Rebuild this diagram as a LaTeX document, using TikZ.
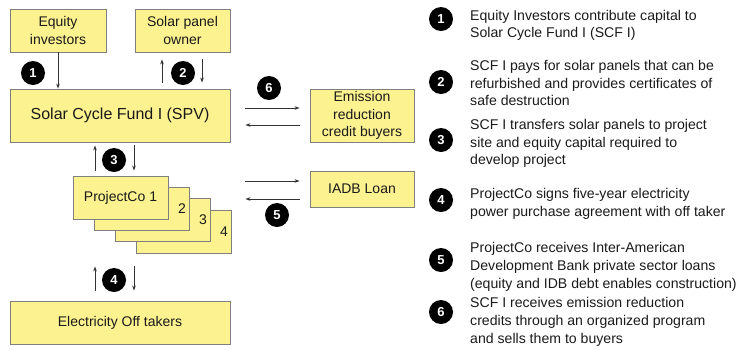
\documentclass[tikz,border=0pt]{standalone}
\usepackage{fontspec}
\setmainfont{Liberation Sans}
\usetikzlibrary{arrows.meta,positioning}
\definecolor{boxfill}{HTML}{FDF290}
\definecolor{boxline}{HTML}{7F7F7F}
\definecolor{ink}{HTML}{1A1A1A}
\definecolor{wire}{HTML}{333333}

\begin{document}
\begin{tikzpicture}[x=1pt, y=-1pt, >={Stealth[length=5pt,width=3.6pt]},
  box/.style={draw=boxline, fill=boxfill, line width=0.9pt, text=ink, align=center,
    inner sep=0pt, font=\fontsize{14}{17.5}\selectfont, minimum height=43pt},
  stack/.style={box, minimum width=95pt,
    label={[anchor=east, text=ink, font=\fontsize{14}{17.5}\selectfont]east:#1}},
  num/.style={circle, fill=black, text=white, inner sep=0pt, minimum size=24pt,
    font=\fontsize{13}{13}\bfseries\selectfont},
  arr/.style={->, wire, line width=0.8pt},
  note/.style={anchor=west, align=left, inner sep=0pt, text=ink,
    font=\fontsize{14.1}{17.7}\selectfont}]
  \useasboundingbox (0,0) rectangle (742,349);

  % parties
  \node[box, minimum width=96pt] (equity) at (58,30.5) {Equity\\investors};
  \node[box, minimum width=95pt] (owner) at (182.5,30.5) {Solar panel\\owner};
  \node[box, minimum width=220pt, minimum height=53pt, font=\fontsize{16}{19}\selectfont] (scf) at (120,115.5) {Solar Cycle Fund I (SPV)};
  \node[box, minimum width=104pt, minimum height=53pt] (emission) at (362,115.5) {Emission\\reduction\\credit buyers};
  \node[box, minimum width=104pt, minimum height=36pt] (iadb) at (362,189) {IADB Loan};
  \node[stack={4}] (proj4) at (183.5,231.5) {};
  \node[stack={3}] (proj3) at (162.5,220) {};
  \node[stack={2}] (proj2) at (141.5,208.5) {};
  \node[box, minimum width=95pt] (proj1) at (120.5,197.5) {ProjectCo 1};
  \node[box, minimum width=220pt] (offtakers) at (120,322.5) {Electricity Off takers};

  % flows
  \draw[arr] (equity.south) -- (equity.south |- scf.north);
  \draw[arr] ([xshift=-20.5pt, yshift=6pt]owner.south |- scf.north) -- ([xshift=-20.5pt, yshift=-7pt]owner.south);
  \draw[arr] ([xshift=19.5pt, yshift=-7pt]owner.south) -- ([xshift=19.5pt, yshift=6pt]owner.south |- scf.north);
  \draw[arr] ([xshift=-25pt, yshift=5pt]scf.south |- proj1.north) -- ([xshift=-25pt, yshift=-3pt]scf.south);
  \draw[arr] ([xshift=14pt, yshift=-3pt]scf.south) -- ([xshift=14pt, yshift=5pt]scf.south |- proj1.north);
  \draw[arr] ([xshift=-25pt, yshift=10pt]offtakers.north) -- ([xshift=-25pt, yshift=-13pt]offtakers.north |- proj4.south);
  \draw[arr] ([xshift=14pt, yshift=-13pt]offtakers.north |- proj4.south) -- ([xshift=14pt, yshift=10pt]offtakers.north);
  \draw[arr] ([xshift=15pt, yshift=7.5pt]scf.east) -- ([xshift=-10pt, yshift=7.5pt]emission.west);
  \draw[arr] ([xshift=-10pt, yshift=-9.5pt]emission.west) -- ([xshift=15pt, yshift=-9.5pt]scf.east);
  \draw[arr] ([xshift=15pt, yshift=8pt]scf.east |- iadb.west) -- ([xshift=-10pt, yshift=8pt]iadb.west);
  \draw[arr] ([xshift=-10pt, yshift=-10pt]iadb.west) -- ([xshift=15pt, yshift=-10pt]scf.east |- iadb.west);

  % step markers
  \node[num] (c1) at (33,73) {1};
  \node[num] (c2) at (183,73) {2};
  \node[num] (c3) at (114,160) {3};
  \node[num] (c4) at (114,280) {4};
  \node[num] (c5) at (277,215) {5};
  \node[num] (c6) at (269,88) {6};

  % legend
  \node[num] (k1) at (441,19) {1};
  \node[num] (k2) at (441,82) {2};
  \node[num] (k3) at (441,140) {3};
  \node[num] (k4) at (441,200) {4};
  \node[num] (k5) at (441,260) {5};
  \node[num] (k6) at (441,312) {6};
  \node[note] (t1) at (470,25.5) {Equity Investors contribute capital to\\Solar Cycle Fund I (SCF I)};
  \node[note] (t2) at (470,83) {SCF I pays for solar panels that can be\\refurbished and provides certificates of\\safe destruction};
  \node[note] (t3) at (470,143.5) {SCF I transfers solar panels to project\\site and equity capital required to\\develop project};
  \node[note] (t4) at (470,203.5) {ProjectCo signs five-year electricity\\power purchase agreement with off taker};
  \node[note] (t5) at (470,267) {ProjectCo receives Inter-American\\Development Bank private sector loans\\(equity and IDB debt enables construction)};
  \node[note] (t6) at (470,322) {SCF I receives emission reduction\\credits through an organized program\\and sells them to buyers};
\end{tikzpicture}
\end{document}
